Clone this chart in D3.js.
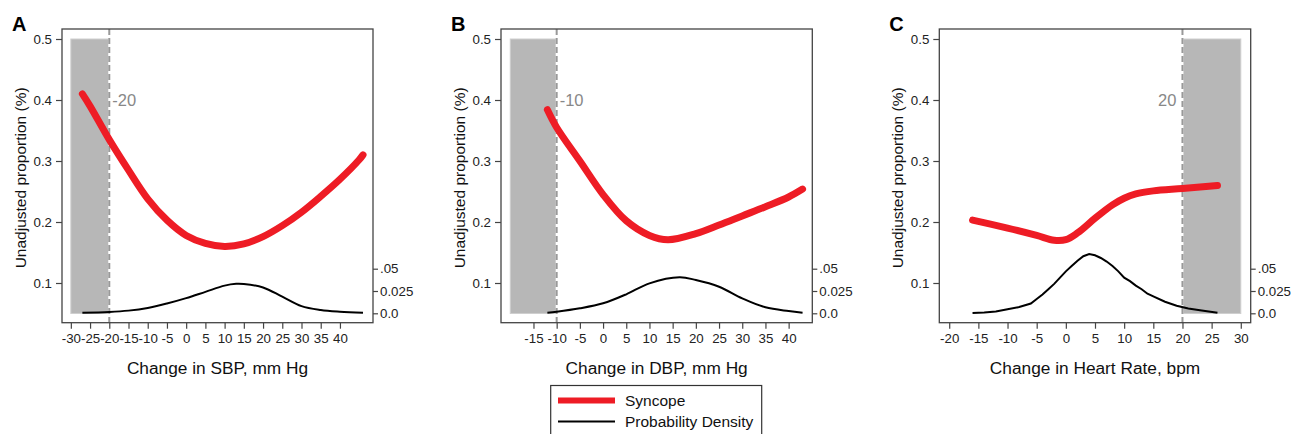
<!DOCTYPE html>
<html>
<head>
<meta charset="utf-8">
<script src="https://cdn.jsdelivr.net/npm/d3@7"></script>
<style>
  body { margin: 0; background: #fff; }
  svg { display: block; font-family: "Liberation Sans", Arial, sans-serif; }
</style>
</head>
<body>
<script>
// Panel A: change in SBP
const sbpX = [-27, -25, -20, -15, -10, -5, 0, 5, 10, 15, 20, 25, 30, 35, 40, 45, 46];
const sbpRisk = [0.41, 0.39, 0.335, 0.285, 0.238, 0.203, 0.178, 0.165, 0.16, 0.164, 0.176, 0.194, 0.216, 0.242, 0.27, 0.302, 0.31];
const sbpDensX = [-27, -20, -15, -10, -5, 0, 5, 10, 13, 15, 20, 25, 30, 35, 40, 46];
const sbpDens = [0.0007, 0.0015, 0.003, 0.006, 0.011, 0.017, 0.024, 0.031, 0.033, 0.0328, 0.029, 0.0186, 0.008, 0.0037, 0.0018, 0.0006];

// Panel B: change in DBP
const dbpX = [-12, -10, -5, 0, 5, 10, 14, 20, 25, 30, 35, 40, 43];
const dbpRisk = [0.384, 0.355, 0.30, 0.245, 0.202, 0.178, 0.171, 0.181, 0.195, 0.21, 0.225, 0.241, 0.254];
const dbpDensX = [-12, -10, -5, 0, 5, 10, 16.5, 20, 25, 30, 35, 40, 43];
const dbpDens = [0.0007, 0.0018, 0.0056, 0.0112, 0.0213, 0.0336, 0.0404, 0.0373, 0.0298, 0.0168, 0.0067, 0.0025, 0.0007];

// Panel C: change in heart rate
const hrX = [-16, -10, -5, -2, 0, 2, 5, 8, 10, 12, 15, 20, 26];
const hrRisk = [0.203, 0.19, 0.178, 0.170, 0.171, 0.182, 0.206, 0.228, 0.239, 0.246, 0.251, 0.255, 0.26];
const hrDensX = [-16, -14, -12, -10, -8, -6, -5, -4, -3, -2, -1, 0, 1, 2, 3, 4, 5, 6, 7, 8, 9, 10, 11, 12, 13, 14, 15, 17, 19, 21, 23, 26];
const hrDens = [0.0004, 0.001, 0.002, 0.0045, 0.007, 0.011, 0.016, 0.021, 0.027, 0.033, 0.040, 0.047, 0.053, 0.059, 0.064, 0.0665, 0.065, 0.062, 0.058, 0.053, 0.047, 0.040, 0.036, 0.031, 0.027, 0.022, 0.019, 0.013, 0.0085, 0.0055, 0.0035, 0.0007];

const leftTicks = [0.1, 0.2, 0.3, 0.4, 0.5];
const densTicks = [0, 0.025, 0.05];
const densTickLabels = ["0.0", "0.025", ".05"];

const panels = [
  { letter: "A", left: 62, right: 373, domain: [-32.3, 48.6], ticks: d3.range(-30, 41, 5),
    shade: [-30, -20], cut: -20, cutLabel: "-20", labelSide: "right",
    title: "Change in SBP, mm Hg", rx: sbpX, ry: sbpRisk, dx: sbpDensX, dy: sbpDens, curve: d3.curveCatmullRom },
  { letter: "B", left: 501, right: 812.3, domain: [-22, 45.1], ticks: d3.range(-15, 41, 5),
    shade: [-20, -10], cut: -10, cutLabel: "-10", labelSide: "right",
    title: "Change in DBP, mm Hg", rx: dbpX, ry: dbpRisk, dx: dbpDensX, dy: dbpDens, curve: d3.curveCatmullRom },
  { letter: "C", left: 939.3, right: 1250.7, domain: [-21.7, 31.7], ticks: d3.range(-20, 31, 5),
    shade: [20, 30], cut: 20, cutLabel: "20", labelSide: "left",
    title: "Change in Heart Rate, bpm", rx: hrX, ry: hrRisk, dx: hrDensX, dy: hrDens, curve: d3.curveLinear }
];

const width = 1291, height = 434;
const boxTop = 29, boxBottom = 322.7;

const svg = d3.select("body").append("svg")
    .attr("width", width)
    .attr("height", height);

// same vertical scales for every panel
const y = d3.scaleLinear().domain([0.05, 0.5]).range([313.5, 39]);
const yd = d3.scaleLinear().domain([0, 0.05]).range([313.3, 268.7]);

panels.forEach(p => {
  const x = d3.scaleLinear().domain(p.domain).range([p.left, p.right]);
  const g = svg.append("g");

  // shaded region
  g.append("rect")
      .attr("x", x(p.shade[0]))
      .attr("y", y(0.5))
      .attr("width", x(p.shade[1]) - x(p.shade[0]))
      .attr("height", y(0.05) - y(0.5))
      .attr("fill", "#b7b7b7")
      .attr("stroke", "#cfcfcf")
      .attr("stroke-width", 1);

  // cut-off line
  g.append("line")
      .attr("x1", x(p.cut)).attr("x2", x(p.cut))
      .attr("y1", boxTop).attr("y2", boxBottom)
      .attr("stroke", "#fff").attr("stroke-width", 2);
  g.append("line")
      .attr("x1", x(p.cut)).attr("x2", x(p.cut))
      .attr("y1", boxTop).attr("y2", boxBottom)
      .attr("stroke", "#999").attr("stroke-width", 2)
      .attr("stroke-dasharray", "6,3");

  g.append("text")
      .attr("x", p.labelSide === "right" ? x(p.cut) + 3 : x(p.cut) - 6)
      .attr("y", y(0.4) + 6)
      .attr("text-anchor", p.labelSide === "right" ? "start" : "end")
      .attr("font-size", 16.5)
      .attr("fill", "#888")
      .text(p.cutLabel);

  // plot frame
  g.append("rect")
      .attr("x", p.left).attr("y", boxTop)
      .attr("width", p.right - p.left).attr("height", boxBottom - boxTop)
      .attr("fill", "none").attr("stroke", "#444").attr("stroke-width", 1.3);

  // density curve
  const densLine = d3.line()
      .x((d, i) => x(p.dx[i]))
      .y(d => yd(d))
      .curve(p.curve);
  g.append("path")
      .attr("d", densLine(p.dy))
      .attr("fill", "none").attr("stroke", "#000").attr("stroke-width", 2);

  // risk curve
  const riskLine = d3.line()
      .x((d, i) => x(p.rx[i]))
      .y(d => y(d))
      .curve(d3.curveCatmullRom);
  g.append("path")
      .attr("d", riskLine(p.ry))
      .attr("fill", "none").attr("stroke", "#ee1c25")
      .attr("stroke-width", 7).attr("stroke-linecap", "round");

  // axes
  const xAxis = g.append("g")
      .attr("transform", `translate(0,${boxBottom})`)
      .call(d3.axisBottom(x).tickValues(p.ticks).tickSize(6).tickPadding(5).tickFormat(d => String(d)));
  const yAxis = g.append("g")
      .attr("transform", `translate(${p.left},0)`)
      .call(d3.axisLeft(y).tickValues(leftTicks).tickSize(6).tickPadding(4).tickFormat(d3.format(".1f")));
  const rAxis = g.append("g")
      .attr("transform", `translate(${p.right},0)`)
      .call(d3.axisRight(yd).tickValues(densTicks).tickSize(5).tickPadding(2)
        .tickFormat((d, i) => densTickLabels[i]));
  [xAxis, yAxis, rAxis].forEach(a => {
    a.select(".domain").remove();
    a.selectAll("line").attr("stroke", "#444").attr("stroke-width", 1.2);
    a.selectAll("text").attr("font-size", 13.3).attr("fill", "#222")
        .attr("font-family", "Liberation Sans, Arial, sans-serif");
  });

  // titles
  g.append("text")
      .attr("x", (p.left + p.right) / 2)
      .attr("y", 374)
      .attr("text-anchor", "middle")
      .attr("font-size", 17.3)
      .attr("fill", "#111")
      .text(p.title);

  g.append("text")
      .attr("transform", `translate(${p.left - 36},${(boxTop + boxBottom) / 2 + 2}) rotate(-90)`)
      .attr("text-anchor", "middle")
      .attr("font-size", 15.5)
      .attr("fill", "#111")
      .text("Unadjusted proportion (%)");

  g.append("text")
      .attr("x", p.left - 50)
      .attr("y", 31)
      .attr("font-size", 20)
      .attr("font-weight", "bold")
      .attr("font-family", "Liberation Sans, Arial, sans-serif")
      .attr("fill", "#000")
      .text(p.letter);
});

// legend
const legend = svg.append("g");
legend.append("rect")
    .attr("x", 550.7).attr("y", 385.5)
    .attr("width", 211).attr("height", 60)
    .attr("fill", "#fff").attr("stroke", "#333").attr("stroke-width", 1.2);
const legendItems = [
  { label: "Syncope", color: "#ee1c25", w: 6, y: 400.5 },
  { label: "Probability Density", color: "#000", w: 2, y: 421.5 }
];
legend.selectAll("g.item").data(legendItems).join("g")
    .attr("class", "item")
    .each(function(d) {
      const it = d3.select(this);
      it.append("line")
          .attr("x1", 558).attr("x2", 615)
          .attr("y1", d.y).attr("y2", d.y)
          .attr("stroke", d.color).attr("stroke-width", d.w);
      it.append("text")
          .attr("x", 625).attr("y", d.y + 5.5)
          .attr("font-size", 15.5).attr("fill", "#111")
          .text(d.label);
    });
</script>
</body>
</html>
